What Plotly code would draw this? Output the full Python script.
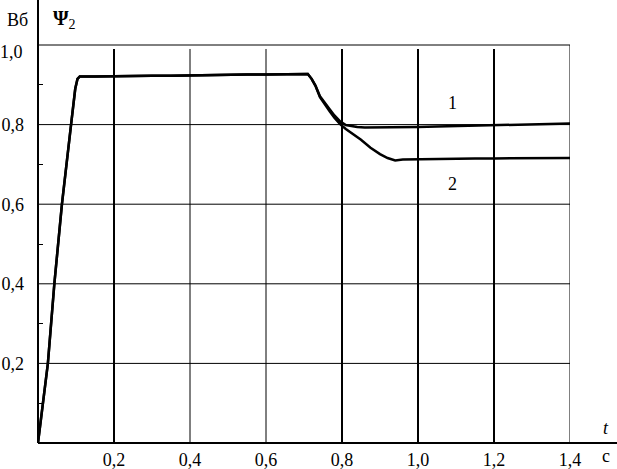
import plotly.graph_objects as go

# data
t1 = [0, 0.026, 0.043, 0.063, 0.087, 0.098, 0.104, 0.11, 0.15, 0.2, 0.25, 0.3, 0.35,
      0.4, 0.45, 0.5, 0.55, 0.6, 0.65, 0.7, 0.71, 0.72, 0.73, 0.742, 0.755, 0.768,
      0.78, 0.795, 0.81, 0.825, 0.84, 0.86, 0.88, 0.9, 0.95, 1.0, 1.05, 1.1, 1.15,
      1.2, 1.25, 1.3, 1.35, 1.4]
psi1 = [0, 0.2, 0.4, 0.6, 0.8, 0.89, 0.915, 0.921, 0.921, 0.922, 0.922, 0.923, 0.923,
        0.924, 0.924, 0.925, 0.926, 0.926, 0.927, 0.928, 0.927, 0.915, 0.898, 0.871,
        0.853, 0.838, 0.823, 0.808, 0.799, 0.796, 0.794, 0.793, 0.793, 0.793, 0.793,
        0.794, 0.795, 0.796, 0.797, 0.799, 0.800, 0.801, 0.802, 0.803]

t2 = [0, 0.026, 0.043, 0.063, 0.087, 0.098, 0.104, 0.11, 0.15, 0.2, 0.25, 0.3, 0.35,
      0.4, 0.45, 0.5, 0.55, 0.6, 0.65, 0.7, 0.71, 0.72, 0.73, 0.742, 0.755, 0.768,
      0.78, 0.795, 0.81, 0.83, 0.85, 0.875, 0.9, 0.92, 0.94, 0.96, 1.0, 1.05, 1.1,
      1.15, 1.2, 1.25, 1.3, 1.35, 1.4]
psi2 = [0, 0.2, 0.4, 0.6, 0.8, 0.89, 0.915, 0.921, 0.921, 0.922, 0.922, 0.923, 0.923,
        0.924, 0.924, 0.925, 0.926, 0.926, 0.927, 0.928, 0.927, 0.915, 0.898, 0.869,
        0.85, 0.833, 0.817, 0.801, 0.789, 0.775, 0.762, 0.742, 0.726, 0.716, 0.710,
        0.712, 0.713, 0.714, 0.714, 0.715, 0.715, 0.715, 0.716, 0.716, 0.716]

x_ticks = [0.2, 0.4, 0.6, 0.8, 1.0, 1.2, 1.4]
x_labels = ['0,2', '0,4', '0,6', '0,8', '1,0', '1,2', '1,4']
x_thick = [0.2, 0.8, 1.0, 1.2]
y_ticks = [0.2, 0.4, 0.6, 0.8]
y_labels = ['0,2', '0,4', '0,6', '0,8']
y_minor = [0.1, 0.3, 0.5, 0.7, 0.9]

FONT = 'Liberation Serif'

fig = go.Figure()
for tt, pp in [(t1, psi1), (t2, psi2)]:
    fig.add_trace(go.Scatter(x=tt, y=pp, mode='lines', cliponaxis=False,
                             line=dict(color='black', width=2.5), showlegend=False))

shapes = []
# vertical grid lines
for v in x_ticks:
    shapes.append(dict(type='line', xref='x', yref='y', x0=v, x1=v, y0=0,
                       y1=1.0 if v == 1.4 else 0.99,
                       line=dict(color='black', width=2 if v in x_thick else 1)))
# horizontal grid lines
for v in y_ticks:
    shapes.append(dict(type='line', xref='x', yref='y', x0=0, x1=1.4, y0=v, y1=v,
                       line=dict(color='black', width=1)))
shapes.append(dict(type='line', xref='x', yref='paper', x0=0, x1=1.4, y0=1, y1=1,
                   line=dict(color='black', width=1)))
# axis lines, running past the plot area
shapes.append(dict(type='line', xref='paper', yref='paper', x0=0, x1=1.09, y0=0, y1=0,
                   line=dict(color='black', width=2)))
shapes.append(dict(type='line', xref='paper', yref='paper', x0=0, x1=0, y0=0, y1=1.12,
                   line=dict(color='black', width=2)))

ann = [
    dict(x=-0.024, y=1.0, xref='paper', yref='y', text='1,0', yshift=-7, xanchor='right'),
    dict(x=-0.038, y=1.063, xref='paper', yref='paper', text='Вб'),
    dict(x=0.05, y=1.063, xref='paper', yref='paper',
         text='<b>Ψ</b><sub>2</sub>', font_size=20),
    dict(x=1.068, y=0.038, xref='paper', yref='paper', text='<i>t</i>'),
    dict(x=1.068, y=-0.033, xref='paper', yref='paper', text='с'),
    dict(x=1.09, y=0.855, xref='x', yref='y', text='1'),
    dict(x=1.092, y=0.65, xref='x', yref='y', text='2'),
]
for a in ann:
    a.setdefault('xanchor', 'center')
    a.setdefault('yanchor', 'middle')
    size = a.pop('font_size', 18)
    a.update(showarrow=False, font=dict(family=FONT, size=size, color='black'))

fig.update_layout(
    width=617, height=469,
    margin=dict(l=38, r=47, t=45, b=26),
    paper_bgcolor='white', plot_bgcolor='white',
    font=dict(family=FONT, size=18, color='black'),
    shapes=shapes, annotations=ann,
    xaxis=dict(range=[0, 1.4], tickvals=x_ticks, ticktext=x_labels, showgrid=False,
               zeroline=False, showline=False, ticks='', ticklabelstandoff=4,
               automargin=False),
    yaxis=dict(range=[0, 1.0], tickvals=y_ticks, ticktext=y_labels, showgrid=False,
               zeroline=False, showline=False, ticks='', ticklabelstandoff=13,
               automargin=False,
               minor=dict(tickvals=y_minor, ticks='inside', ticklen=5,
                          tickcolor='black', tickwidth=1, showgrid=False)),
)

# drop the page's default body margin so the figure fills the window
fig.write_html('out.html', config={'displayModeBar': False},
               post_script="document.body.style.margin='0';")
